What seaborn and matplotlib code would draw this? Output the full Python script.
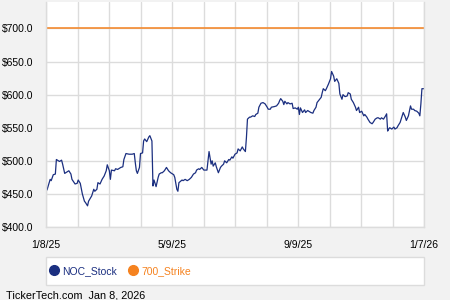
import numpy as np
import pandas as pd
import matplotlib
matplotlib.use("Agg")
import matplotlib.pyplot as plt
import matplotlib.dates as mdates
from matplotlib.lines import Line2D
from matplotlib.patches import Rectangle
from matplotlib.ticker import MultipleLocator, FuncFormatter
import seaborn as sns

# ---- data ----
start_date = "2025-01-08"
end_date = "2026-01-07"
day_offsets = [0, 1, 4, 5, 7, 9, 10, 13, 15, 16, 18, 21, 22, 24, 25, 28, 30, 31, 33, 35,
               37, 38, 40, 41, 44, 46, 47, 49, 50, 52, 54, 56, 58, 59, 61, 62, 63, 66, 67, 69,
               72, 74, 75, 77, 80, 83, 85, 86, 87, 88, 90, 91, 93, 94, 95, 97, 99, 100, 102, 103,
               104, 106, 108, 109, 111, 112, 114, 116, 118, 120, 123, 124, 126, 127, 128, 131, 132, 134, 136, 138,
               140, 142, 144, 145, 147, 148, 150, 152, 153, 155, 156, 157, 159, 160, 161, 163, 164, 166, 168, 169,
               171, 172, 174, 176, 177, 179, 180, 182, 184, 185, 187, 189, 190, 192, 193, 194, 196, 197, 199, 201,
               202, 204, 205, 207, 209, 211, 213, 214, 216, 217, 220, 222, 224, 225, 226, 228, 229, 230, 232, 233,
               235, 237, 238, 240, 242, 243, 244, 245, 247, 249, 250, 252, 253, 255, 257, 258, 260, 261, 263, 265,
               266, 267, 269, 270, 272, 274, 275, 277, 278, 280, 282, 283, 285, 286, 288, 290, 291, 293, 294, 296,
               298, 299, 301, 302, 304, 306, 307, 309, 310, 312, 314, 315, 317, 319, 320, 322, 323, 325, 327, 328,
               329, 330, 331, 333, 335, 336, 338, 339, 341, 343, 344, 346, 347, 349, 351, 352, 354, 355, 357, 359,
               360, 361, 362, 364]
noc_stock = [460, 456, 472, 470, 479, 480, 502, 499, 501, 495, 481, 484, 485, 480, 472, 465, 466, 471, 466, 450,
             439, 437, 432, 439, 447, 457, 454, 457, 467, 465, 472, 477, 485, 494, 485, 472, 486, 485, 488, 487,
             490, 491, 502, 511, 510, 510, 511, 497, 485, 481, 490, 511, 512, 530, 533, 529, 536, 538, 530, 462,
             471, 461, 475, 480, 482, 482, 485, 490, 485, 482, 479, 475, 457, 454, 467, 471, 470, 472, 470, 472,
             475, 480, 482, 486, 488, 487, 490, 486, 486, 486, 500, 514, 495, 500, 492, 497, 491, 482, 490, 492,
             495, 500, 497, 502, 501, 506, 504, 510, 512, 518, 515, 521, 518, 514, 535, 563, 566, 566, 568, 567,
             570, 572, 581, 587, 588, 586, 581, 578, 578, 581, 582, 583, 587, 591, 594, 590, 585, 590, 586, 588,
             586, 587, 579, 580, 578, 581, 570, 580, 573, 577, 573, 576, 575, 573, 572, 576, 581, 588, 592, 596,
             603, 609, 606, 609, 616, 624, 635, 628, 620, 624, 617, 601, 593, 600, 597, 598, 603, 601, 593, 588,
             581, 576, 581, 573, 575, 568, 570, 566, 563, 558, 556, 558, 563, 565, 565, 563, 565, 563, 568, 571,
             545, 548, 550, 548, 551, 548, 550, 553, 558, 568, 573, 566, 561, 568, 583, 578, 578, 576, 575, 572,
             568, 586, 609, 609]
strike_value = 700
series_names = ["NOC_Stock", "700_Strike"]
x_tick_labels = ["1/8/25", "5/9/25", "9/9/25", "1/7/26"]
footer_text = "TickerTech.com  Jan 8, 2026"

# ---- styling ----
navy = "#1b2f80"
orange = "#f5821f"
bg = "#f2f2f2"
grid_c = "#dcdcdc"

sns.set_theme(style="white")
plt.rcParams["font.family"] = ["Liberation Sans", "DejaVu Sans"]

dates = pd.Timestamp(start_date) + pd.to_timedelta(day_offsets, unit="D")
df_stock = pd.DataFrame({"date": dates, "price": noc_stock})
t0, t1 = pd.Timestamp(start_date), pd.Timestamp(end_date)
df_strike = pd.DataFrame({"date": [t0, t1], "price": [strike_value, strike_value]})

fig = plt.figure(figsize=(4.5, 3.0), dpi=100, facecolor=bg)
ax = fig.add_axes([46 / 450, 1 - 227 / 300, 378 / 450, 225 / 300])
ax.set_facecolor("white")

sns.lineplot(data=df_strike, x="date", y="price", ax=ax, color=orange, linewidth=1.1, legend=False)
sns.lineplot(data=df_stock, x="date", y="price", ax=ax, color=navy, linewidth=0.9, legend=False)

ax.set_xlim(t0, t1)
ax.set_ylim(400, 740)

# x grid: 12 equal divisions, labels every 4th
grid_pos = pd.date_range(t0, t1, periods=13)
ax.set_xticks(mdates.date2num(grid_pos))
labels = []
for i in range(13):
    labels.append(x_tick_labels[i // 4] if i % 4 == 0 else "")
ax.set_xticklabels(labels)
mid_pos = mdates.date2num(grid_pos[:-1]) + np.diff(mdates.date2num(grid_pos)) / 2
ax.set_xticks(mid_pos, minor=True)

ax.yaxis.set_major_locator(MultipleLocator(50))
ax.yaxis.set_minor_locator(MultipleLocator(25))
ax.yaxis.set_major_formatter(FuncFormatter(lambda v, p: f"${v:.1f}"))

ax.grid(True, which="major", color=grid_c, linewidth=1.0)
ax.set_axisbelow(True)
ax.tick_params(axis="both", which="major", length=0, labelsize=7.5, colors="black")
ax.tick_params(axis="x", which="major", pad=9)
ax.tick_params(axis="y", which="major", pad=9)
ax.tick_params(axis="both", which="minor", length=3, direction="in", color="#c8c8c8", width=0.8)
ax.set_xlabel("")
ax.set_ylabel("")
for s in ["left", "bottom", "right"]:
    ax.spines[s].set_color(grid_c)
    ax.spines[s].set_linewidth(1.0)
ax.spines["top"].set_visible(False)

# legend box
fig.patches.append(Rectangle((46 / 450, 1 - 285 / 300), 378 / 450, 28 / 300,
                             transform=fig.transFigure, facecolor="white",
                             edgecolor=grid_c, linewidth=1.0, zorder=0))
handles = [Line2D([], [], marker="o", linestyle="none", markersize=7, color=navy),
           Line2D([], [], marker="o", linestyle="none", markersize=7, color=orange)]
leg = fig.legend(handles, series_names, loc="center left",
                 bbox_to_anchor=(49 / 450, 1 - 271 / 300), ncol=2, frameon=False,
                 fontsize=7.5, handletextpad=0.3, columnspacing=1.0, handlelength=1.0,
                 borderpad=0, borderaxespad=0)
for t, c in zip(leg.get_texts(), [navy, orange]):
    t.set_color(c)

fig.text(6 / 450, 1 - 295 / 300, footer_text, fontsize=7.8, ha="left", va="center", color="black")

fig.savefig("out.png", dpi=100, facecolor=bg)
